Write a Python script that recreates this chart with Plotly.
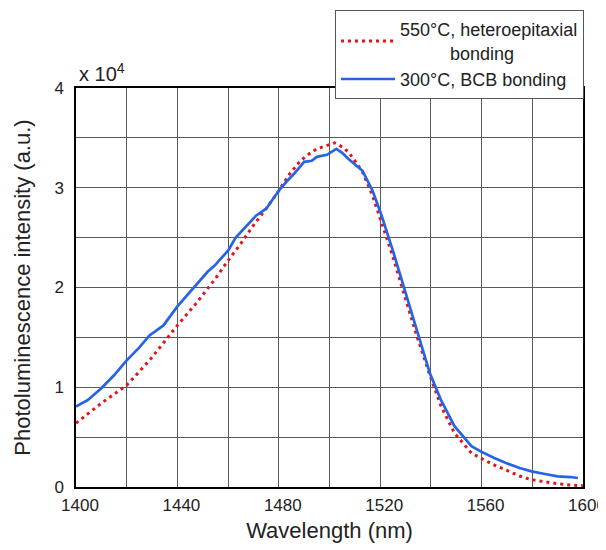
import plotly.graph_objects as go

# Wavelength (nm) and PL intensity (x 10^4 a.u.)
wl_blue = [1400, 1404.7, 1410, 1415, 1420, 1425, 1429, 1434.5, 1440, 1444, 1448, 1452, 1454.7,
           1460, 1463, 1467, 1471, 1475, 1480, 1483, 1486, 1490, 1493, 1495, 1499, 1502.7,
           1505, 1507.4, 1510, 1513, 1517, 1520.3, 1525, 1529, 1534.5, 1539.6, 1544, 1549.3,
           1556, 1559.6, 1565, 1569.6, 1575, 1579.7, 1585, 1590, 1595, 1598]
pl_blue = [0.807, 0.873, 0.99, 1.12, 1.27, 1.40, 1.52, 1.62, 1.81, 1.93, 2.04, 2.16, 2.22,
           2.37, 2.50, 2.61, 2.72, 2.79, 2.97, 3.06, 3.14, 3.26, 3.27, 3.31, 3.33, 3.39,
           3.35, 3.29, 3.23, 3.17, 2.97, 2.74, 2.37, 2.04, 1.57, 1.14, 0.87, 0.61,
           0.41, 0.357, 0.29, 0.24, 0.19, 0.157, 0.13, 0.107, 0.10, 0.09]

wl_red = [1400, 1405, 1410, 1415, 1420, 1429, 1440, 1448, 1455, 1460, 1465, 1469.6, 1475,
          1480, 1484, 1488.5, 1492, 1495, 1502, 1505, 1507.4, 1510, 1513, 1517, 1520.3,
          1525, 1529, 1534.5, 1539.6, 1544, 1549.3, 1556, 1559.6, 1565, 1569.6, 1575,
          1579.7, 1585, 1590, 1595, 1600]
pl_red = [0.64, 0.74, 0.84, 0.93, 1.02, 1.27, 1.62, 1.86, 2.09, 2.27, 2.44, 2.61, 2.79,
          2.97, 3.13, 3.27, 3.34, 3.39, 3.45, 3.41, 3.36, 3.27, 3.16, 2.92, 2.67,
          2.31, 1.97, 1.51, 1.12, 0.81, 0.54, 0.34, 0.29, 0.22, 0.17, 0.11,
          0.073, 0.05, 0.033, 0.02, 0.013]

label_red = "550°C, heteroepitaxial<br>          bonding"
label_blue = "300°C, BCB bonding"

x_ticks = [1400, 1440, 1480, 1520, 1560, 1600]
y_ticks = [0, 1, 2, 3, 4]

FONT = "Liberation Sans, Arial, sans-serif"
GRID = "#5a5a5a"

fig = go.Figure()
fig.add_trace(go.Scatter(x=wl_red, y=pl_red, mode="lines", name=label_red,
                         line=dict(color="#e3141b", width=3, dash="3px,4px")))
fig.add_trace(go.Scatter(x=wl_blue, y=pl_blue, mode="lines", name=label_blue,
                         line=dict(color="#2563e8", width=2.7)))

# the page body adds an 8px offset, so the figure is 8px smaller
fig.update_layout(
    width=598, height=542,
    margin=dict(l=68, r=23, t=80, b=63, autoexpand=False),
    paper_bgcolor="white", plot_bgcolor="white",
    font=dict(family=FONT, size=17, color="#222"),
    showlegend=True,
    legend=dict(x=1.002, xanchor="right", y=(479 - 2) / 399, yanchor="top",
                bgcolor="white", bordercolor="#555", borderwidth=1,
                font=dict(size=18, color="#222"), tracegroupgap=0,
                itemwidth=54),
    xaxis=dict(range=[1400, 1600], tickvals=x_ticks, ticktext=[str(v) for v in x_ticks],
               showgrid=True, gridcolor=GRID, gridwidth=1,
               minor=dict(dtick=20, tick0=1400, showgrid=True, gridcolor=GRID, gridwidth=1),
               showline=True, linecolor="black", linewidth=1.5, mirror=True,
               zeroline=False, ticks="", ticklabelstandoff=2, ticklabelshift=4,
               title=dict(text="Wavelength (nm)", font=dict(size=22), standoff=8)),
    yaxis=dict(range=[0, 4], tickvals=y_ticks, ticktext=[str(v) for v in y_ticks],
               showgrid=True, gridcolor=GRID, gridwidth=1,
               minor=dict(dtick=0.5, tick0=0, showgrid=True, gridcolor=GRID, gridwidth=1),
               showline=True, linecolor="black", linewidth=1.5, mirror=True,
               zeroline=False, ticks="", ticklabelstandoff=7,
               title=dict(text="Photoluminescence intensity (a.u.)", font=dict(size=22), standoff=18)),
    annotations=[dict(text="x 10<sup>4</sup>", xref="paper", yref="paper", x=0.002, y=1.0,
                      xanchor="left", yanchor="bottom", showarrow=False, yshift=1,
                      font=dict(size=20, color="#222"))],
)

fig.write_html("out.html")
